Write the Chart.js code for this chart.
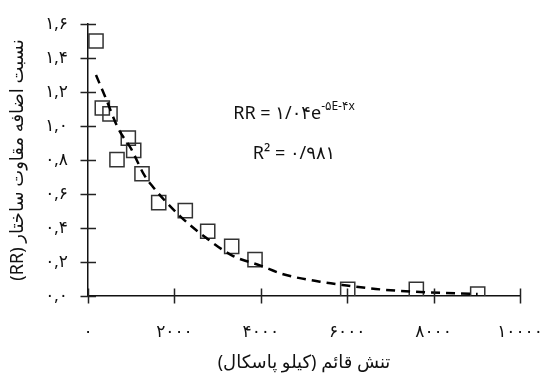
<!DOCTYPE html>
<html>
<head>
<meta charset="utf-8">
<script src="https://cdn.jsdelivr.net/npm/chart.js@4"></script>
<style>
  html, body { margin: 0; padding: 0; background: #fff; }
  #wrap { width: 546px; height: 374px; position: relative; }
</style>
</head>
<body>
<div id="wrap"><canvas id="rrChart" width="546" height="374"></canvas></div>
<script>
// measured points: vertical stress (kPa) vs resistance ratio RR
const stressX = [185, 331, 509, 933, 671, 1058, 1250, 1637, 2252, 2771, 3326, 3866, 6012, 7600, 9021];
const rrY = [1.50, 1.106, 1.071, 0.929, 0.802, 0.857, 0.719, 0.549, 0.502, 0.381, 0.292, 0.214, 0.039, 0.039, 0.012];

// exponential trend line
const trendX = [185, 400, 700, 1000, 1300, 1500, 2130, 2750, 3360, 3980, 4520, 5370, 5990, 6760, 7690, 9020];
const trendY = [1.30, 1.17, 0.985, 0.865, 0.712, 0.643, 0.47, 0.339, 0.235, 0.18, 0.128, 0.084, 0.062, 0.039, 0.024, 0.012];

const yTicks = [0, 0.2, 0.4, 0.6, 0.8, 1.0, 1.2, 1.4, 1.6];
const yTickLabels = ['۰,۰', '۰,۲', '۰,۴', '۰,۶', '۰,۸', '۱,۰', '۱,۲', '۱,۴', '۱,۶'];
const xTicks = [0, 2000, 4000, 6000, 8000, 10000];
const xTickLabels = ['۰', '۲۰۰۰', '۴۰۰۰', '۶۰۰۰', '۸۰۰۰', '۱۰۰۰۰'];

const eqMain = 'RR = ۱/۰۴e';
const eqExp = '-۵E-۴x';
const eqR2 = 'R² = ۰/۹۸۱';

const yTitle = '\u202Bنسبت اضافه مقاوت ساختار (RR)\u202C';
const xTitle = '\u202Bتنش قائم (کیلو پاسکال)\u202C';

const FONT = "'Noto Sans', 'DejaVu Sans', sans-serif";

const pts = stressX.map((x, i) => ({ x: x, y: rrY[i] }));
const trend = trendX.map((x, i) => ({ x: x, y: trendY[i] }));

// ticks that cross the axis lines + the equation text
const crossTicks = {
    id: 'crossTicks',
    afterDraw(chart) {
        const ctx = chart.ctx;
        const xs = chart.scales.x, ys = chart.scales.y;
        const left = chart.chartArea.left, bottom = chart.chartArea.bottom;
        ctx.save();
        ctx.strokeStyle = '#222';
        ctx.lineWidth = 1.5;
        ctx.beginPath();
        yTicks.forEach(v => {
            const py = Math.round(ys.getPixelForValue(v)) + 0.5;
            ctx.moveTo(left - 7.5, py);
            ctx.lineTo(left + 8, py);
        });
        xTicks.forEach(v => {
            const px = Math.round(xs.getPixelForValue(v)) + 0.5;
            ctx.moveTo(px, bottom - 7.5);
            ctx.lineTo(px, bottom + 7.5);
        });
        ctx.stroke();

        ctx.fillStyle = '#111';
        ctx.textBaseline = 'alphabetic';
        ctx.textAlign = 'left';
        ctx.font = '18px ' + FONT;
        const mainW = ctx.measureText(eqMain).width;
        ctx.font = '12px ' + FONT;
        const expW = ctx.measureText(eqExp).width;
        const cx = 294;
        const x0 = cx - (mainW + expW) / 2;
        ctx.font = '18px ' + FONT;
        ctx.fillText(eqMain, x0, 119);
        ctx.font = '12px ' + FONT;
        ctx.fillText(eqExp, x0 + mainW, 110);
        ctx.font = '18px ' + FONT;
        ctx.textAlign = 'center';
        ctx.fillText(eqR2, cx, 159);
        ctx.restore();
    }
};

new Chart(document.getElementById('rrChart').getContext('2d'), {
    type: 'scatter',
    data: {
        datasets: [
            {
                label: 'RR',
                data: pts,
                pointStyle: 'rect',
                pointRadius: 10,
                pointHoverRadius: 10,
                backgroundColor: 'rgba(0,0,0,0)',
                borderColor: '#333',
                borderWidth: 1.5,
                order: 2
            },
            {
                label: 'trend',
                type: 'line',
                data: trend,
                showLine: true,
                borderColor: '#000',
                borderWidth: 2.5,
                borderDash: [9, 6],
                pointRadius: 0,
                fill: false,
                cubicInterpolationMode: 'monotone',
                order: 1
            }
        ]
    },
    options: {
        responsive: false,
        animation: false,
        events: [],
        layout: { padding: { top: 24, right: 26, left: 7, bottom: 0 } },
        plugins: { legend: { display: false }, tooltip: { enabled: false } },
        scales: {
            x: {
                type: 'linear',
                min: 0,
                max: 10000,
                afterFit: s => { s.height = 374 - 296; s.paddingLeft = 0; s.paddingRight = 0; },
                afterBuildTicks: s => { s.ticks = xTicks.map(v => ({ value: v })); },
                grid: { display: false },
                border: { display: true, color: '#111', width: 1.5 },
                ticks: {
                    padding: 18,
                    color: '#111',
                    font: { family: FONT, size: 17 },
                    maxRotation: 0,
                    callback: (v) => xTickLabels[xTicks.indexOf(v)]
                },
                title: {
                    display: true,
                    text: xTitle,
                    color: '#111',
                    font: { family: FONT, size: 18 },
                    padding: { top: 4, bottom: 0 }
                }
            },
            y: {
                type: 'linear',
                min: 0,
                max: 1.6,
                afterFit: s => { s.width = 81; s.paddingTop = 0; s.paddingBottom = 0; },
                afterBuildTicks: s => { s.ticks = yTicks.map(v => ({ value: v })); },
                grid: { display: false },
                border: { display: true, color: '#111', width: 1.5 },
                ticks: {
                    padding: 12,
                    color: '#111',
                    font: { family: FONT, size: 17 },
                    callback: (v) => yTickLabels[yTicks.findIndex(t => Math.abs(t - v) < 1e-6)]
                },
                title: {
                    display: true,
                    text: yTitle,
                    color: '#111',
                    font: { family: FONT, size: 18 },
                    padding: { top: 0, bottom: 4 }
                }
            }
        }
    },
    plugins: [crossTicks]
});
</script>
</body>
</html>
